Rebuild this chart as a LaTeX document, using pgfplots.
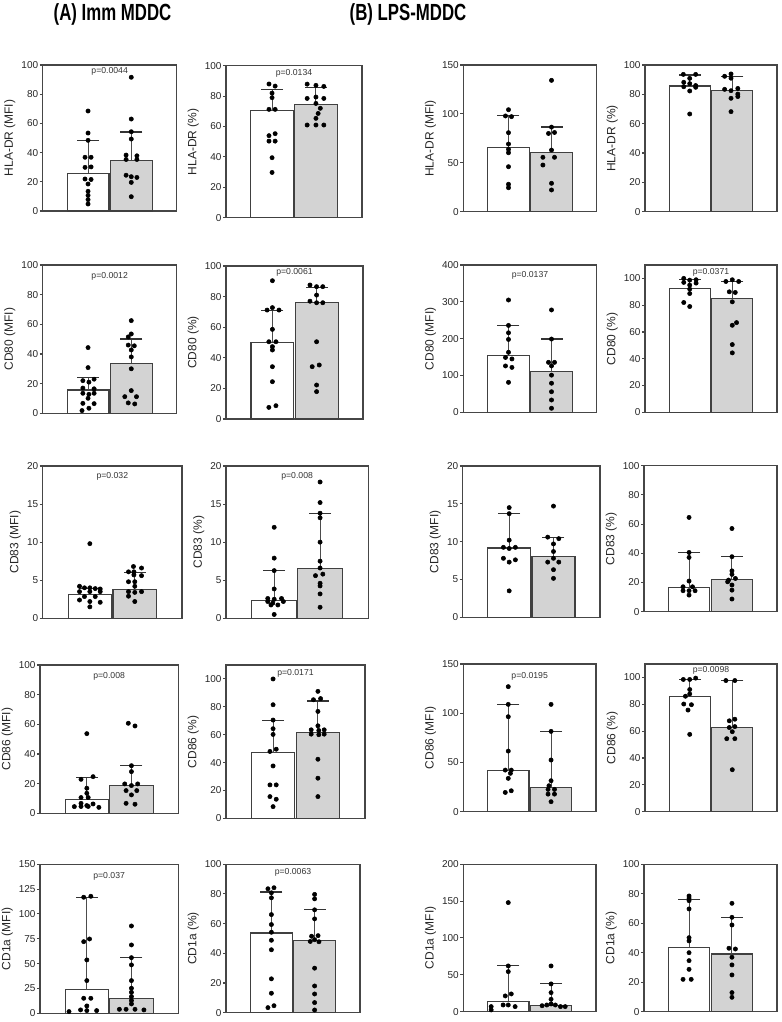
\documentclass[border=0pt]{standalone}
\usepackage{fontspec}
\setmainfont{Liberation Sans}
\usepackage{graphicx}
\usepackage{pgfplots}
\pgfplotsset{compat=1.18}

\definecolor{barfill}{RGB}{211,211,211}
\definecolor{framecol}{RGB}{70,70,70}

\pgfplotsset{
  panel/.style={
    scale only axis, anchor=north west,
    xmin=-0.05, xmax=3.05, ymin=0,
    xtick=\empty, ytick pos=left, tick align=outside,
    major tick length=2.2pt,
    axis line style={draw=framecol, line width=0.9pt},
    tick style={draw=framecol, line width=0.8pt},
    tick label style={font=\fontsize{7.5}{8}\selectfont, text=black!85},
    yticklabel style={inner sep=1pt},
    ylabel style={font=\fontsize{9}{10}\selectfont, text=black!85, at={(ticklabel cs:0.5,0pt)}},
    /pgf/number format/assume math mode=true,
    clip=false,
  },
  wbar/.style={ybar, bar width=0.97, bar shift=0pt, fill=white, draw=black!75, line width=0.8pt},
  gbar/.style={ybar, bar width=0.97, bar shift=0pt, fill=barfill, draw=black!75, line width=0.8pt},
  whisk/.style={draw=black!70, line width=0.8pt},
  caps/.style={only marks, mark=-, mark size=8.25pt, mark options={draw=black!80, line width=0.8pt}},
  dots/.style={only marks, mark=*, mark size=1.6pt, mark options={fill=black, draw=black}},
}
% p-value above the bars, shifted down from the top of the frame
\newcommand\pv[2]{\node[font=\fontsize{6.5}{7}\selectfont, text=black!80, yshift=-#2] at (rel axis cs:0.5,1) {#1};}

\begin{document}
\begin{tikzpicture}
\path[use as bounding box] (0,0) rectangle (586.5pt,-766.5pt);

\node at (84.4pt,-10.5pt) {\scalebox{0.72}[1]{\fontsize{17.5}{20}\selectfont\bfseries (A) Imm MDDC}};
\node at (306pt,-10.5pt) {\scalebox{0.72}[1]{\fontsize{17.5}{20}\selectfont\bfseries (B) LPS-MDDC}};

%% ---------- row 1: HLA-DR ----------
\begin{axis}[panel, at={(32pt,-48.75pt)}, width=100.5pt, height=109.5pt,
  ymax=100, ytick={0,20,...,100}, ylabel={HLA-DR (MFI)}]
\addplot[wbar] coordinates {(1,25.8)};
\addplot[gbar] coordinates {(2,34.9)};
\addplot[whisk] coordinates {(1,25.8) (1,48.4)};
\addplot[whisk] coordinates {(2,34.9) (2,54.1)};
\addplot[caps] coordinates {(1,48.4) (2,54.1)};
\addplot[dots] coordinates {(1,68.5) (1,53.4) (1,48.4) (0.93,36.8) (1.07,36.8) (0.93,29.9) (1.07,30.2) (0.93,21.9) (1.07,21.6) (1,18.5) (1,13.5) (1,10.7) (1,7.8) (1,4.8)};
\addplot[dots] coordinates {(2,91.6) (2,63) (2,54.3) (2,49.3) (1.88,38.3) (2.13,37.8) (1.88,35.3) (2.13,35.3) (1.88,24.5) (2,23.5) (2.13,23) (2,19.6) (2,9.8)};
\pv{p=0.0044}{4.5pt}
\end{axis}

\begin{axis}[panel, at={(169.5pt,-49.3pt)}, width=102pt, height=114pt,
  ymax=100, ytick={0,20,...,100}, ylabel={HLA-DR (\%)}]
\addplot[wbar] coordinates {(1,70.6)};
\addplot[gbar] coordinates {(2,74.6)};
\addplot[whisk] coordinates {(1,70.6) (1,84.4)};
\addplot[whisk] coordinates {(2,74.6) (2,85.7)};
\addplot[caps] coordinates {(1,84.4) (2,85.7)};
\addplot[dots] coordinates {(0.93,88) (1.07,86.6) (1,82) (1,79) (0.93,71.3) (1.07,71.3) (1.07,55.3) (0.93,54) (0.93,50.4) (1.07,50.4) (1,39.5) (1,29.8)};
\addplot[dots] coordinates {(1.8,87.9) (2,87.1) (2.18,86.4) (1.8,78.5) (2,79.4) (2.18,78.5) (2,75.2) (2.1,72) (2.05,68.6) (2,65.4) (1.8,61) (2,61) (2.18,61)};
\pv{p=0.0134}{6pt}
\end{axis}

\begin{axis}[panel, at={(347.5pt,-48.75pt)}, width=100pt, height=110pt,
  ymax=150, ytick={0,50,100,150}, ylabel={HLA-DR (MFI)}]
\addplot[wbar] coordinates {(1,65.8)};
\addplot[gbar] coordinates {(2,60.3)};
\addplot[whisk] coordinates {(1,65.8) (1,97.9)};
\addplot[whisk] coordinates {(2,60.3) (2,86.6)};
\addplot[caps] coordinates {(1,97.9) (2,86.6)};
\addplot[dots] coordinates {(1,104.3) (0.93,97.9) (1.07,97.2) (1,80.8) (1,69.2) (1,63.8) (1,60.3) (1,46) (1,28) (1,24.5)};
\addplot[dots] coordinates {(2,134.3) (2,86.5) (1.93,80) (2.07,81) (2,63) (1.8,55.6) (2.07,55.6) (1.8,47.7) (2,29) (2,22.2)};
\end{axis}

\begin{axis}[panel, at={(483.75pt,-48.75pt)}, width=99pt, height=110pt,
  ymax=100, ytick={0,20,...,100}, ylabel={HLA-DR (\%)}]
\addplot[wbar] coordinates {(1,85.7)};
\addplot[gbar] coordinates {(2,82.3)};
\addplot[whisk] coordinates {(1,85.7) (1,93.2)};
\addplot[whisk] coordinates {(2,82.3) (2,92.3)};
\addplot[caps] coordinates {(1,93.2) (2,92.3)};
\addplot[dots] coordinates {(0.85,93.6) (1.14,93.6) (1,90.9) (0.86,88.2) (1,87.3) (1.14,86) (0.86,85.2) (1.14,84.8) (1,82.3) (1,66.6)};
\addplot[dots] coordinates {(1.97,93.9) (1.82,92.3) (1.97,91) (2.13,84) (1.82,83.4) (1.97,82.5) (2.13,80.2) (2.13,78.5) (1.97,77.3) (1.97,68.2)};
\end{axis}

%% ---------- row 2: CD80 ----------
\begin{axis}[panel, at={(32pt,-198.75pt)}, width=100.5pt, height=111.2pt,
  ymax=100, ytick={0,20,...,100}, ylabel={CD80 (MFI)}]
\addplot[wbar] coordinates {(1,15.7)};
\addplot[gbar] coordinates {(2,33.7)};
\addplot[whisk] coordinates {(1,15.7) (1,24)};
\addplot[whisk] coordinates {(2,33.7) (2,50.1)};
\addplot[caps] coordinates {(1,24) (2,50.1)};
\addplot[dots] coordinates {(1,44.3) (1,30.8) (0.88,22) (1.14,23) (1.02,21) (0.88,17) (1.14,16.5) (0.88,13.5) (1.02,12.8) (1.14,13.5) (1,10.1) (0.88,6.7) (1.14,6.5) (1.02,3.4) (0.86,1.8)};
\addplot[dots] coordinates {(2,62.5) (2,53.5) (1.93,51.5) (1.93,46) (2.07,45.5) (2,42.7) (2,38) (2,30) (2,15.3) (1.85,11.2) (2.12,11.2) (1.93,7) (2.08,6.3)};
\pv{p=0.0012}{8.8pt}
\end{axis}

\begin{axis}[panel, at={(169.5pt,-199.5pt)}, width=102.75pt, height=114.75pt,
  ymax=100, ytick={0,20,...,100}, ylabel={CD80 (\%)}]
\addplot[wbar] coordinates {(1,50.1)};
\addplot[gbar] coordinates {(2,76.3)};
\addplot[whisk] coordinates {(1,50.1) (1,71)};
\addplot[whisk] coordinates {(2,76.3) (2,85.8)};
\addplot[caps] coordinates {(1,71) (2,85.8)};
\addplot[dots] coordinates {(1,90.4) (1,72.8) (0.88,71.2) (1.15,71.2) (1,58.6) (0.92,50.5) (1.08,50.5) (1,47.3) (1,45.1) (1,34.2) (1,24.4) (0.92,7.6) (1.08,8.7)};
\addplot[dots] coordinates {(1.85,87.6) (2,86.5) (2.14,86.5) (2,81) (1.85,77) (2,76) (2.14,76) (2,50.5) (1.9,34.2) (2.06,35.3) (2,22.2) (2,17.9)};
\pv{p=0.0061}{5pt}
\end{axis}

\begin{axis}[panel, at={(347.5pt,-198.75pt)}, width=100pt, height=110.5pt,
  ymax=400, ytick={0,100,...,400}, ylabel={CD80 (MFI)}]
\addplot[wbar] coordinates {(1,154.8)};
\addplot[gbar] coordinates {(2,110.4)};
\addplot[whisk] coordinates {(1,154.8) (1,236.2)};
\addplot[whisk] coordinates {(2,110.4) (2,199.1)};
\addplot[caps] coordinates {(1,236.2) (2,199.1)};
\addplot[dots] coordinates {(1,305) (1,236) (1,216) (1,198) (1,163) (0.93,149) (1.08,145) (0.93,126) (1.08,122) (1,81.4)};
\addplot[dots] coordinates {(2,278) (2,199) (1.93,135.7) (2.07,135.7) (2,126) (2,101) (2,79) (2,56) (2,33.5) (2,11)};
\pv{p=0.0137}{7.5pt}
\end{axis}

\begin{axis}[panel, at={(483.75pt,-198.75pt)}, width=99pt, height=110.5pt,
  ymax=110, ytick={0,20,...,100}, ylabel={CD80 (\%)}]
\addplot[wbar] coordinates {(1,92.7)};
\addplot[gbar] coordinates {(2,85.2)};
\addplot[whisk] coordinates {(1,92.7) (1,99.5)};
\addplot[whisk] coordinates {(2,85.2) (2,97.7)};
\addplot[caps] coordinates {(1,99.5) (2,97.7)};
\addplot[dots] coordinates {(0.86,100) (1,98.7) (1.15,99) (0.86,97) (1,95) (1.15,96.5) (1,92) (1,88.7) (0.86,82) (1,79)};
\addplot[dots] coordinates {(1.85,97.7) (2,99) (2.15,97.7) (1.93,90) (2.07,89.5) (2,82.5) (2.1,67) (2,65) (2,50.6) (2,44.4)};
\pv{p=0.0371}{5.8pt}
\end{axis}

%% ---------- row 3: CD83 ----------
\begin{axis}[panel, at={(32pt,-349.5pt)}, width=104.5pt, height=114.2pt,
  ymax=20, ytick={0,5,...,20}, ylabel={CD83 (MFI)}]
\addplot[wbar] coordinates {(1,3.1)};
\addplot[gbar] coordinates {(2,3.76)};
\addplot[whisk] coordinates {(1,3.1) (1,3.9)};
\addplot[whisk] coordinates {(2,3.76) (2,6.04)};
\addplot[caps] coordinates {(1,3.9) (2,6.04)};
\addplot[dots] coordinates {(1,9.8) (0.77,4.2) (0.88,4.0) (1,4.0) (1.12,3.9) (1.23,3.85) (0.77,3.5) (1,3.5) (1.23,3.5) (0.88,2.85) (1.12,2.85) (0.77,2.4) (1,2.2) (1.23,2.1) (1,1.5)};
\addplot[dots] coordinates {(1.97,6.8) (2.15,6.6) (1.86,6.1) (1.98,6.1) (1.98,5.7) (2.15,5.6) (1.86,4.8) (2,4.8) (2,4.2) (1.86,3.5) (2,3.4) (2.15,3.5) (1.86,2.9) (2,2.2)};
\pv{p=0.032}{8pt}
\end{axis}

\begin{axis}[panel, at={(169.5pt,-349.5pt)}, width=106.7pt, height=114.2pt,
  ymax=20, ytick={0,5,...,20}, ylabel={CD83 (\%)}]
\addplot[wbar] coordinates {(1,2.36)};
\addplot[gbar] coordinates {(2,6.48)};
\addplot[whisk] coordinates {(1,2.36) (1,6.26)};
\addplot[whisk] coordinates {(2,6.48) (2,13.8)};
\addplot[caps] coordinates {(1,6.26) (2,13.8)};
\addplot[dots] coordinates {(1,11.95) (1,7.9) (1,6.26) (1,3.85) (0.86,2.6) (1,2.5) (1.16,2.6) (0.86,2.2) (0.97,2.0) (1.2,2.2) (0.93,1.75) (1.08,1.75) (1,0.5)};
\addplot[dots] coordinates {(2,17.9) (2,15.2) (2,13.8) (2,13.2) (2,10) (2,7.5) (2,6.6) (1.9,5.6) (2.06,5.8) (2,4.6) (2,4.25) (2,3.2) (2,1.45)};
\pv{p=0.008}{8pt}
\end{axis}

\begin{axis}[panel, at={(347pt,-349.5pt)}, width=103pt, height=113.5pt,
  ymax=20, ytick={0,5,...,20}, ylabel={CD83 (MFI)}]
\addplot[wbar] coordinates {(1,9.16)};
\addplot[gbar] coordinates {(2,8.1)};
\addplot[whisk] coordinates {(1,9.16) (1,13.7)};
\addplot[whisk] coordinates {(2,8.1) (2,10.57)};
\addplot[caps] coordinates {(1,13.7) (2,10.57)};
\addplot[dots] coordinates {(1,14.5) (1,13.7) (1,10.2) (0.87,9.25) (1,9.1) (1.14,9.25) (0.87,7.8) (1.14,7.6) (1,7.3) (1,3.5)};
\addplot[dots] coordinates {(2,14.7) (1.87,10.6) (2.12,10.4) (2,9.7) (2,8.7) (1.87,7.3) (2.12,7.3) (2,7.8) (2,6.3) (2,5.15)};
\end{axis}

\begin{axis}[panel, at={(483pt,-349.3pt)}, width=99.75pt, height=109.5pt,
  ymax=100, ytick={0,20,...,100}, ylabel={CD83 (\%)}]
\addplot[wbar] coordinates {(1,16.7)};
\addplot[gbar] coordinates {(2,22.1)};
\addplot[whisk] coordinates {(1,16.7) (1,40.6)};
\addplot[whisk] coordinates {(2,22.1) (2,37.7)};
\addplot[caps] coordinates {(1,40.6) (2,37.7)};
\addplot[dots] coordinates {(1,64.6) (1,40.6) (1,37.2) (1,21) (0.86,17.1) (1.08,17.1) (0.86,14.4) (1,14.4) (1.14,14.4) (1,11.4)};
\addplot[dots] coordinates {(2,57) (2,37.7) (2,28) (2,25.6) (1.92,21.7) (2.08,22.8) (1.9,20.5) (2,18.3) (2,14.8) (2,8.7)};
\end{axis}

%% ---------- row 4: CD86 ----------
\begin{axis}[panel, at={(30pt,-498.75pt)}, width=103.7pt, height=111.2pt,
  ymax=100, ytick={0,20,...,100}, ylabel={CD86 (MFI)}]
\addplot[wbar] coordinates {(1,9.4)};
\addplot[gbar] coordinates {(2,18.9)};
\addplot[whisk] coordinates {(1,9.4) (1,24)};
\addplot[whisk] coordinates {(2,18.9) (2,32.1)};
\addplot[caps] coordinates {(1,24) (2,32.1)};
\addplot[dots] coordinates {(1,53.7) (0.87,22.9) (1.14,24.7) (1,16.9) (1,13.5) (0.87,10.6) (1.03,10.6) (0.87,6.7) (1,5.2) (1.14,6.3) (0.72,4.5) (1.27,4) (0.87,4.6) (1.03,4.6)};
\addplot[dots] coordinates {(1.93,60.7) (2.08,58.9) (2,32.1) (2,28.1) (1.85,19.8) (2.14,19.8) (2,18.7) (1.88,15.3) (2.12,15.3) (2,12.4) (1.88,6.7) (2.08,6.1)};
\pv{p=0.008}{8.25pt}
\end{axis}

\begin{axis}[panel, at={(169.5pt,-498.75pt)}, width=104.25pt, height=115pt,
  ymax=110, ytick={0,20,...,100}, ylabel={CD86 (\%)}]
\addplot[wbar] coordinates {(1,47.2)};
\addplot[gbar] coordinates {(2,61.6)};
\addplot[whisk] coordinates {(1,47.2) (1,70.5)};
\addplot[whisk] coordinates {(2,61.6) (2,84.2)};
\addplot[caps] coordinates {(1,70.5) (2,84.2)};
\addplot[dots] coordinates {(1,100) (1,81.5) (1,70.5) (1,64.3) (1,60.2) (1.07,49.6) (0.93,48) (1,37.6) (0.93,24) (1.07,24) (0.93,15.6) (1.07,13.7) (1,8.4)};
\addplot[dots] coordinates {(2,91.1) (1.9,85.1) (2.06,85.9) (2,76.7) (2,66.4) (1.85,63.5) (2.02,63) (2.14,63.5) (1.85,60.4) (2.02,60) (2.14,60.4) (2,42.4) (2,28.8) (2,15.6)};
\pv{p=0.0171}{6.2pt}
\end{axis}

\begin{axis}[panel, at={(347.5pt,-498pt)}, width=99.5pt, height=110.8pt,
  ymax=150, ytick={0,50,100,150}, ylabel={CD86 (MFI)}]
\addplot[wbar] coordinates {(1,41.7)};
\addplot[gbar] coordinates {(2,24.7)};
\addplot[whisk] coordinates {(1,41.7) (1,109)};
\addplot[whisk] coordinates {(2,24.7) (2,81.6)};
\addplot[caps] coordinates {(1,109) (2,81.6)};
\addplot[dots] coordinates {(1,127) (1,109) (1,96.5) (1,61.6) (0.93,42.3) (1.07,42.3) (1.05,39) (1,33.9) (0.93,19.6) (1.07,21.3)};
\addplot[dots] coordinates {(2,109) (2,81.6) (2,52.5) (2,31.5) (1.95,26.4) (1.93,22.7) (2.08,22.7) (1.93,17.9) (2.08,17.9) (2,10.2)};
\pv{p=0.0195}{9pt}
\end{axis}

\begin{axis}[panel, at={(483.75pt,-498pt)}, width=99pt, height=110.8pt,
  ymax=110, ytick={0,20,...,100}, ylabel={CD86 (\%)}]
\addplot[wbar] coordinates {(1,85.7)};
\addplot[gbar] coordinates {(2,62.7)};
\addplot[whisk] coordinates {(1,85.7) (1,98.5)};
\addplot[whisk] coordinates {(2,62.7) (2,97.7)};
\addplot[caps] coordinates {(1,98.5) (2,97.7)};
\addplot[dots] coordinates {(0.85,98.5) (1,98.5) (1.14,99.5) (1,91) (1,87.7) (0.9,86) (0.86,80.2) (1.04,79.7) (0.96,75.7) (1,57.6)};
\addplot[dots] coordinates {(1.85,97.7) (2.06,97.7) (2.06,68.9) (1.93,67.7) (2.06,63.4) (1.93,62.7) (2,59.6) (1.87,54.4) (2.06,54.4) (2,31.3)};
\pv{p=0.0098}{5pt}
\end{axis}

%% ---------- row 5: CD1a ----------
\begin{axis}[panel, at={(30pt,-648.2pt)}, width=103.7pt, height=111.75pt,
  ymax=150, ytick={0,25,...,150}, ylabel={CD1a (MFI)}]
\addplot[wbar] coordinates {(1,23.5)};
\addplot[gbar] coordinates {(2,14.8)};
\addplot[whisk] coordinates {(1,23.5) (1,116.8)};
\addplot[whisk] coordinates {(2,14.8) (2,56)};
\addplot[caps] coordinates {(1,116.8) (2,56)};
\addplot[dots] coordinates {(0.93,116.8) (1.09,117.8) (0.93,72.1) (1.06,74.8) (1,53.7) (1,32.9) (0.93,15.1) (1.09,15.1) (1,7.4) (0.86,3.4) (1,2.7) (1.22,2.7) (0.6,1.7)};
\addplot[dots] coordinates {(2,87.9) (2,68.8) (2,56) (2,48.7) (2,32.9) (2,25.2) (2,21.1) (2,16.8) (2,12.8) (2,9.4) (1.73,4) (1.88,4) (2.08,4) (2.28,3.4)};
\pv{p=0.037}{8.8pt}
\end{axis}

\begin{axis}[panel, at={(169.5pt,-648.2pt)}, width=100.5pt, height=111.3pt,
  ymax=100, ytick={0,20,...,100}, ylabel={CD1a (\%)}]
\addplot[wbar] coordinates {(1,53.7)};
\addplot[gbar] coordinates {(2,48.5)};
\addplot[whisk] coordinates {(1,53.7) (1,81.3)};
\addplot[whisk] coordinates {(2,48.5) (2,69.3)};
\addplot[caps] coordinates {(1,81.3) (2,69.3)};
\addplot[dots] coordinates {(0.92,83.5) (1.06,84.2) (1,80.8) (1,77.4) (1,66.1) (1,59.4) (1,54.2) (1,48.8) (1,42.4) (1,22.8) (1,13.1) (0.92,3.4) (1.06,4.7)};
\addplot[dots] coordinates {(2,79.7) (2,76.7) (2,69.3) (2,63.2) (1.93,51.5) (2.08,51.9) (2,49.2) (1.9,48) (2.1,47.8) (2,30) (2,18) (2,12.6) (2,6.8) (2,1.8)};
\pv{p=0.0063}{6.3pt}
\end{axis}

\begin{axis}[panel, at={(347.5pt,-648.2pt)}, width=99.5pt, height=110.5pt,
  ymax=200, ytick={0,50,...,200}, ylabel={CD1a (MFI)}]
\addplot[wbar] coordinates {(1,14)};
\addplot[gbar] coordinates {(2,8.1)};
\addplot[whisk] coordinates {(1,14) (1,62)};
\addplot[whisk] coordinates {(2,8.1) (2,37.6)};
\addplot[caps] coordinates {(1,62) (2,37.6)};
\addplot[dots] coordinates {(1,148) (1,62) (1,54.3) (0.93,21.3) (1.07,24) (0.88,9) (1,9) (1.16,6.8) (0.6,6.8) (0.6,2.3)};
\addplot[dots] coordinates {(2,62) (2,37.6) (2,25.8) (2,16.7) (2,10.4) (1.79,8) (1.9,9) (2.1,9) (2.22,6.8) (2.33,6.8)};
\end{axis}

\begin{axis}[panel, at={(483pt,-648.2pt)}, width=99.75pt, height=110.5pt,
  ymax=100, ytick={0,20,...,100}, ylabel={CD1a (\%)}]
\addplot[wbar] coordinates {(1,43.7)};
\addplot[gbar] coordinates {(2,39.1)};
\addplot[whisk] coordinates {(1,43.7) (1,75.8)};
\addplot[whisk] coordinates {(2,39.1) (2,64)};
\addplot[caps] coordinates {(1,75.8) (2,64)};
\addplot[dots] coordinates {(1,78.5) (1,77) (1,75.3) (1,69.7) (1,50.2) (1,48) (1,40) (1,34.6) (1,28.7) (0.86,21.9) (1.05,21.9)};
\addplot[dots] coordinates {(2,73.5) (2,64) (2,58.8) (1.93,43) (2.08,42.5) (2,36.9) (2,31.7) (2,24.9) (2,12.9) (2,9.7)};
\end{axis}

\end{tikzpicture}
\end{document}
